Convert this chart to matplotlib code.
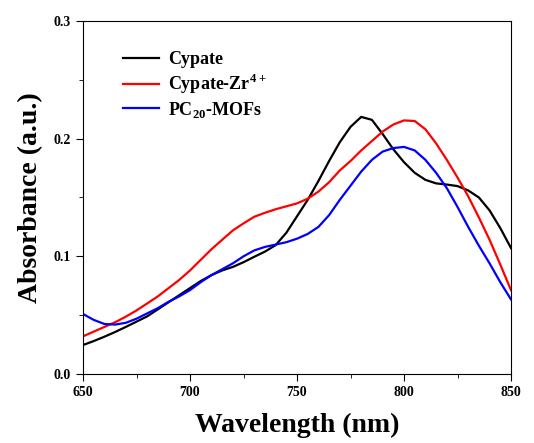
import matplotlib.pyplot as plt
from matplotlib.ticker import MultipleLocator

plt.rcParams['font.family'] = ['Liberation Serif', 'DejaVu Serif']
plt.rcParams['font.weight'] = 'bold'
plt.rcParams['mathtext.fontset'] = 'custom'
plt.rcParams['mathtext.rm'] = 'Liberation Serif:bold'

# wavelength grid, 650-850 nm every 5 nm
wavelength = list(range(650, 851, 5))

# Cypate (black)
abs_cy = [0.0246, 0.028, 0.0317, 0.0357, 0.040, 0.0445, 0.049, 0.055, 0.061, 0.067,
          0.073, 0.079, 0.084, 0.088, 0.091, 0.095, 0.0996, 0.104, 0.1095, 0.120,
          0.134, 0.148, 0.164, 0.181, 0.197, 0.210, 0.2185, 0.216, 0.204, 0.191,
          0.180, 0.171, 0.165, 0.162, 0.161, 0.1597, 0.156, 0.150, 0.139, 0.124, 0.107]

# Cypate-Zr4+ (red)
abs_zr = [0.032, 0.036, 0.040, 0.044, 0.0487, 0.054, 0.060, 0.066, 0.073, 0.080,
          0.088, 0.097, 0.106, 0.114, 0.122, 0.128, 0.1336, 0.137, 0.140, 0.1425,
          0.145, 0.149, 0.155, 0.163, 0.173, 0.181, 0.190, 0.198, 0.206, 0.212,
          0.2155, 0.215, 0.208, 0.196, 0.182, 0.167, 0.151, 0.133, 0.114, 0.093, 0.0713]

# PC20-MOFs (blue)
abs_mof = [0.051, 0.046, 0.0425, 0.042, 0.0435, 0.047, 0.0515, 0.056, 0.0614, 0.066,
           0.0713, 0.078, 0.084, 0.089, 0.094, 0.100, 0.105, 0.108, 0.110, 0.112,
           0.115, 0.119, 0.125, 0.135, 0.148, 0.160, 0.172, 0.182, 0.189, 0.192,
           0.193, 0.190, 0.182, 0.171, 0.158, 0.142, 0.125, 0.109, 0.094, 0.078, 0.0634]

fig = plt.figure(figsize=(5.34, 4.43), dpi=100)
ax = fig.add_axes([83 / 534, 69 / 443, 428 / 534, 353 / 443])

ax.plot(wavelength, abs_cy, color='black', lw=1.6, label='Cypate')
ax.plot(wavelength, abs_zr, color='red', lw=1.6, label='Cypate-Zr$^{4+}$')
ax.plot(wavelength, abs_mof, color='blue', lw=1.6, label='PC$_{20}$-MOFs')

ax.set_xlim(650, 850)
ax.set_ylim(0, 0.3)
ax.xaxis.set_major_locator(MultipleLocator(50))
ax.xaxis.set_minor_locator(MultipleLocator(25))
ax.yaxis.set_major_locator(MultipleLocator(0.1))
ax.yaxis.set_minor_locator(MultipleLocator(0.05))
ax.tick_params(which='both', direction='out', labelsize=10)
ax.tick_params(which='major', length=5)
ax.tick_params(which='minor', length=3)
ax.yaxis.set_major_formatter(plt.FuncFormatter(lambda v, p: f"{v:.1f}"))

ax.set_xlabel('Wavelength (nm)', fontsize=20, fontweight='bold', labelpad=10)
ax.set_ylabel('Absorbance (a.u.)', fontsize=20, fontweight='bold', labelpad=8)

ax.legend(loc='upper left', bbox_to_anchor=(0.056, 0.96), frameon=False, fontsize=13,
          handlelength=2.0, labelspacing=0.2, handletextpad=0.5)

plt.savefig('out.png', dpi=100)
